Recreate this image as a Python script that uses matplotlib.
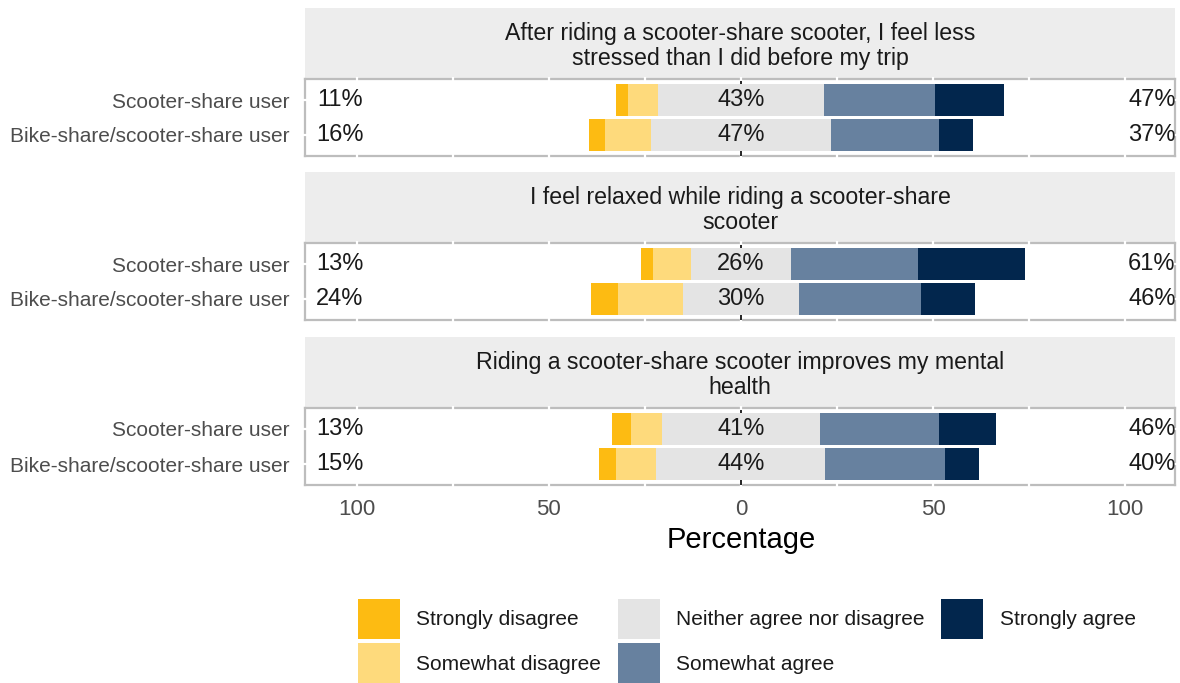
import numpy as np
import matplotlib
matplotlib.use('Agg')
import matplotlib.pyplot as plt
from matplotlib.patches import Patch

plt.rcParams['font.family'] = ['Liberation Sans', 'DejaVu Sans']

# Datos (porcentajes)
preguntas = [
    'After riding a scooter-share scooter, I feel less\nstressed than I did before my trip',
    'I feel relaxed while riding a scooter-share\nscooter',
    'Riding a scooter-share scooter improves my mental\nhealth',
]
grupos = ['Scooter-share user', 'Bike-share/scooter-share user']
niveles = ['Strongly disagree', 'Somewhat disagree', 'Neither agree nor disagree',
           'Somewhat agree', 'Strongly agree']
colores = ['#FDBB12', '#FEDA7C', '#E4E4E4', '#67819F', '#02264D']

# cada lista: [pregunta][grupo]
muy_desacuerdo = [[3, 4], [3, 7], [5, 4.5]]
algo_desacuerdo = [[8, 12], [10, 17], [8, 10.5]]
neutral = [[43, 47], [26, 30], [41, 44]]
algo_acuerdo = [[29, 28], [33, 32], [31, 31]]
muy_acuerdo = [[18, 9], [28, 14], [15, 9]]

ticks_x = [-100, -50, 0, 50, 100]
etiquetas_x = ['100', '50', '0', '50', '100']

W, H = 1180, 683
izq, der = 305, 1175
tops = [8, 172, 337]
alto_strip = 71
alto_panel = 77

fig = plt.figure(figsize=(11.8, 6.83), dpi=100)

for i, preg in enumerate(preguntas):
    top = tops[i]

    # franja del título
    ax_s = fig.add_axes([izq / W, 1 - (top + alto_strip) / H, (der - izq) / W, alto_strip / H])
    ax_s.set_facecolor('#EDEDED')
    ax_s.set_xticks([])
    ax_s.set_yticks([])
    for sp in ax_s.spines.values():
        sp.set_visible(False)
    ax_s.text(0.5, 0.47, preg, ha='center', va='center', fontsize=16.7, color='#1A1A1A',
              linespacing=1.1, transform=ax_s.transAxes)

    # panel con las barras
    ax = fig.add_axes([izq / W, 1 - (top + alto_strip + alto_panel) / H, (der - izq) / W, alto_panel / H])
    ys = [2, 1]
    for j in range(2):
        segs = [muy_desacuerdo[i][j], algo_desacuerdo[i][j], neutral[i][j],
                algo_acuerdo[i][j], muy_acuerdo[i][j]]
        inicio = -neutral[i][j] / 2 - algo_desacuerdo[i][j] - muy_desacuerdo[i][j]
        for k, v in enumerate(segs):
            ax.barh(ys[j], v, left=inicio, height=0.9, color=colores[k], zorder=2)
            inicio += v
        izq_pct = round(muy_desacuerdo[i][j] + algo_desacuerdo[i][j])
        der_pct = round(algo_acuerdo[i][j] + muy_acuerdo[i][j])
        ax.text(-104.5, ys[j], f'{izq_pct}%', ha='center', va='center', fontsize=17, color='#1A1A1A', zorder=3)
        ax.text(0, ys[j], f'{round(neutral[i][j])}%', ha='center', va='center', fontsize=17, color='#1A1A1A', zorder=3)
        ax.text(107, ys[j], f'{der_pct}%', ha='center', va='center', fontsize=17, color='#1A1A1A', zorder=3)

    ax.axvline(0, color='black', ls=(0, (3, 3)), lw=1.2, zorder=1)
    ax.set_xlim(-113.5, 113)
    ax.set_ylim(0.4, 2.6)
    ax.set_yticks(ys)
    ax.set_yticklabels(grupos, fontsize=15, color='#4D4D4D')
    ax.set_xticks(ticks_x)
    ax.set_xticklabels(etiquetas_x, fontsize=16, color='#4D4D4D')
    ax.set_xticks([-75, -25, 25, 75], minor=True)
    ax.tick_params(which='both', direction='inout', length=3.5, width=1.6, color='white',
                   top=True, right=True)
    ax.tick_params(axis='y', pad=9.75)
    ax.tick_params(axis='x', pad=8.25)
    if i < 2:
        ax.tick_params(axis='x', labelbottom=False)
    ax.set_axisbelow(True)
    for sp in ax.spines.values():
        sp.set_color('#BDBDBD')
        sp.set_linewidth(1.6)
        sp.set_zorder(0.4)

fig.text(741 / W, 1 - 540 / H, 'Percentage', ha='center', va='center', fontsize=21, color='black')

handles = [Patch(facecolor=c, edgecolor='none') for c in colores]
fig.legend(handles, niveles, loc='upper left', bbox_to_anchor=(358 / W, 1 - 599 / H), ncol=3,
           frameon=False, fontsize=15, handlelength=2.0, handleheight=2.58, handletextpad=0.8,
           columnspacing=0.8, labelspacing=0.2, borderpad=0, borderaxespad=0,
           labelcolor='#1A1A1A')

fig.savefig('out.png', dpi=100)
